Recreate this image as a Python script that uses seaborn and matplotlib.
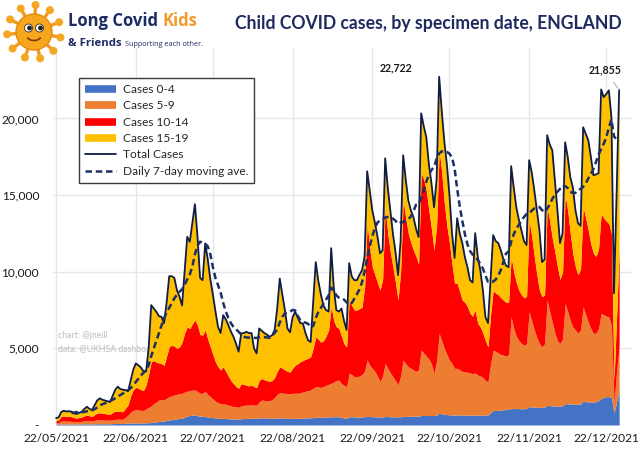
import numpy as np
import pandas as pd
import matplotlib
matplotlib.use("Agg")
import matplotlib.pyplot as plt
from matplotlib.lines import Line2D
from matplotlib.patches import Circle, Arc
import seaborn as sns

# ---------------- data ----------------
start_date = "2021-05-22"

total_cases = [
    450, 500, 850, 930, 880, 900, 870, 760, 720, 800,
    870, 1050, 1190, 1050, 980, 1300, 1600, 1740, 1650, 1600,
    1550, 1500, 1900, 2300, 2500, 2350, 2300, 2280, 2200, 2900,
    3600, 4020, 3900, 3750, 3500, 3480, 5000, 7820, 7600, 7390,
    7100, 7060, 6650, 8000, 9710, 9710, 9600, 8800, 8370, 7800,
    10000, 12280, 11950, 13200, 14410, 12300, 9600, 9450, 11850, 10800,
    9500, 8500, 7400, 6400, 6000, 7170, 6900, 6520, 6100, 5760,
    5300, 4780, 5980, 6000, 6080, 6000, 6000, 5000, 4670, 6300,
    6150, 6000, 5900, 5760, 5850, 6190, 7600, 9560, 8500, 7500,
    6300, 6050, 7040, 7390, 7000, 6650, 6630, 6000, 5540, 5410,
    8000, 10630, 9400, 8500, 7800, 7500, 7400, 11540, 9000, 7500,
    7400, 7600, 6800, 6200, 10560, 9700, 9450, 9450, 9800, 10100,
    11000, 16560, 15300, 14000, 13200, 12300, 11200, 11400, 17400, 15500,
    14000, 12500, 11300, 9780, 12000, 17600, 16000, 14670, 14000, 13560,
    12800, 12260, 20340, 19500, 18780, 17000, 15780, 14210, 16000, 22722,
    20500, 18500, 17000, 15000, 12500, 10900, 13500, 12500, 11870, 10950,
    10300, 9450, 9300, 12520, 11000, 10100, 8800, 7040, 6650, 9500,
    12390, 12000, 11870, 11400, 10800, 10400, 10300, 16890, 15500, 14210,
    13400, 12710, 12000, 11740, 17280, 16500, 15320, 14000, 12710, 10630,
    10800, 18910, 18300, 17930, 16000, 14020, 11870, 12500, 18450, 17500,
    16170, 15500, 14020, 13170, 13000, 19430, 19000, 18580, 17500, 16300,
    16350, 16430, 21900, 21390, 21600, 21840, 20080, 8600, 15000, 21855,
]

# upper edge of the 10-14 band (cases aged 0-14)
cum_0_14 = [
    300, 330, 560, 590, 560, 570, 540, 480, 450, 490,
    520, 600, 650, 600, 560, 680, 780, 800, 760, 740,
    720, 700, 820, 900, 900, 880, 870, 1100, 1300, 1900,
    2300, 2450, 2400, 2300, 2250, 2600, 3300, 4130, 4200, 4100,
    4050, 4000, 3900, 4500, 5100, 5200, 5150, 5000, 5100, 5400,
    6000, 6400, 6300, 6600, 6850, 6500, 5900, 5870, 6200, 5600,
    5100, 4600, 4100, 3800, 3590, 3800, 3500, 3200, 2900, 2700,
    2500, 2400, 2700, 2650, 2600, 2550, 2600, 2500, 2450, 2900,
    3040, 2950, 2900, 2850, 2900, 3100, 3500, 3800, 3700, 3590,
    3500, 3450, 3700, 3900, 4000, 4130, 4200, 4300, 4350, 4450,
    5000, 5760, 5600, 5400, 5500, 5800, 6200, 7710, 6800, 6410,
    6300, 5800, 5300, 5100, 8150, 7800, 7500, 7500, 7600, 7700,
    9000, 13170, 11500, 10320, 9800, 9300, 8800, 9500, 14230, 12500,
    11300, 10320, 9300, 8150, 10000, 14670, 13500, 12500, 11900, 11410,
    11000, 10500, 16500, 16000, 15300, 14000, 12800, 11400, 13000, 17930,
    16500, 14500, 13000, 11870, 10500, 9250, 9250, 8700, 8150, 8000,
    7720, 7300, 7100, 7500, 6630, 6400, 6000, 5500, 5100, 7200,
    8800, 8600, 8500, 8300, 8150, 8000, 8000, 10970, 10000, 9300,
    8800, 8500, 8300, 8400, 13370, 12300, 11000, 9800, 8800, 8370,
    8500, 14230, 13300, 12200, 11300, 10320, 9500, 10000, 15000, 14000,
    12500, 11200, 10320, 9800, 10200, 14230, 13500, 12700, 11800, 11200,
    11000, 11500, 13800, 13500, 13300, 13150, 12500, 2930, 7000, 11500,
]

# upper edge of the 5-9 band (cases aged 0-9)
cum_0_9 = [
    150, 160, 260, 270, 250, 250, 240, 220, 210, 230,
    240, 270, 290, 280, 270, 300, 340, 340, 330, 320,
    320, 310, 350, 370, 380, 370, 380, 500, 650, 850,
    950, 1000, 980, 960, 950, 1050, 1150, 1250, 1400, 1500,
    1630, 1650, 1650, 1750, 1850, 1900, 1950, 2000, 2050, 2070,
    2150, 2200, 2250, 2280, 2280, 2200, 2070, 2070, 2200, 2000,
    1850, 1700, 1550, 1450, 1400, 1400, 1350, 1300, 1250, 1200,
    1200, 1150, 1250, 1280, 1300, 1300, 1320, 1300, 1300, 1500,
    1630, 1600, 1600, 1580, 1650, 1800, 2000, 2100, 2080, 2070,
    2050, 2030, 2070, 2070, 2070, 2100, 2150, 2200, 2250, 2280,
    2400, 2500, 2500, 2450, 2500, 2600, 2650, 2720, 2800, 2900,
    2930, 2700, 2600, 2500, 3370, 3300, 3150, 3150, 3200, 3300,
    3500, 4240, 3900, 3700, 3500, 3200, 2830, 3200, 4020, 3700,
    3400, 3150, 2900, 2610, 3200, 4240, 4000, 3800, 3700, 3590,
    3500, 3600, 4890, 4700, 4500, 4300, 4000, 3370, 4200, 5980,
    5500, 5000, 4600, 4240, 4000, 3700, 3700, 3600, 3500, 3450,
    3450, 3400, 3350, 3400, 3260, 3200, 3100, 2900, 2830, 4000,
    4890, 4800, 4700, 4600, 4560, 4500, 4600, 7060, 6300, 5800,
    5500, 5330, 5200, 5300, 7390, 6800, 6200, 5700, 5300, 5100,
    5300, 8150, 7400, 6700, 6000, 5500, 5330, 5600, 7930, 7400,
    6800, 6400, 6190, 6000, 6200, 7720, 7200, 6700, 6300, 5980,
    6000, 6300, 7280, 7200, 7100, 7060, 6500, 1430, 3500, 5200,
]

# cases aged 0-4
cum_0_4 = [
    50, 50, 60, 60, 60, 60, 60, 60, 60, 60,
    70, 70, 70, 70, 70, 80, 80, 80, 80, 80,
    80, 80, 90, 100, 100, 100, 100, 110, 120, 120,
    130, 130, 130, 130, 140, 140, 150, 160, 180, 200,
    230, 250, 260, 300, 330, 350, 380, 400, 430, 450,
    500, 580, 620, 650, 650, 600, 580, 570, 560, 520,
    500, 480, 460, 440, 430, 430, 420, 410, 400, 400,
    400, 390, 410, 420, 430, 430, 440, 440, 440, 460,
    470, 470, 460, 450, 450, 450, 460, 470, 450, 430,
    430, 430, 430, 430, 430, 440, 450, 460, 470, 470,
    480, 500, 500, 500, 510, 520, 530, 540, 540, 540,
    540, 500, 460, 430, 540, 540, 530, 520, 520, 530,
    540, 560, 550, 540, 530, 530, 520, 530, 560, 550,
    540, 540, 530, 530, 540, 560, 560, 560, 570, 570,
    570, 580, 620, 620, 620, 620, 620, 620, 640, 760,
    730, 700, 680, 660, 650, 650, 660, 650, 640, 640,
    640, 640, 640, 650, 650, 650, 650, 650, 650, 800,
    950, 950, 950, 980, 1000, 1000, 1020, 1090, 1080, 1070,
    1070, 1060, 1060, 1080, 1200, 1180, 1170, 1160, 1150, 1150,
    1170, 1280, 1260, 1250, 1240, 1240, 1230, 1260, 1400, 1380,
    1370, 1360, 1360, 1350, 1380, 1550, 1520, 1500, 1500, 1500,
    1520, 1600, 1740, 1800, 1850, 1850, 1800, 780, 1500, 2200,
]

series_labels = ["Cases 0-4", "Cases 5-9", "Cases 10-14", "Cases 15-19",
                 "Total Cases", "Daily 7-day moving ave."]
x_tick_dates = ["2021-05-22", "2021-06-22", "2021-07-22", "2021-08-22",
                "2021-09-22", "2021-10-22", "2021-11-22", "2021-12-22"]
x_tick_labels = ["22/05/2021", "22/06/2021", "22/07/2021", "22/08/2021",
                 "22/09/2021", "22/10/2021", "22/11/2021", "22/12/2021"]
y_ticks = [0, 5000, 10000, 15000, 20000]
y_tick_labels = ["-", "5,000", "10,000", "15,000", "20,000"]
peak_dates = ["2021-10-18", "2021-12-27"]
peak_texts = ["22,722", "21,855"]

# ---------------- styling ----------------
sns.set_theme(style="white")
plt.rcParams["font.family"] = ["Lato", "DejaVu Sans"]

c_blue, c_orange, c_red, c_yellow = "#4472C4", "#ED7D31", "#FF0000", "#FFC000"
c_navy = "#0F1D45"
c_title = "#1F2A5E"

dates = pd.date_range(start_date, periods=len(total_cases))
df = pd.DataFrame({
    "date": dates,
    "total": total_cases,
    "c14": cum_0_14,
    "c9": cum_0_9,
    "c4": cum_0_4,
})
df["ma7"] = df["total"].rolling(7).mean()

W, H = 640, 461
fig = plt.figure(figsize=(W / 100, H / 100), dpi=100)
fig.patch.set_facecolor("white")

ax_l, ax_r, ax_b, ax_t = 53, 632, 425, 48
ax = fig.add_axes([ax_l / W, 1 - ax_b / H, (ax_r - ax_l) / W, (ax_b - ax_t) / H])
ax.set_facecolor("white")

x0 = pd.Timestamp(start_date) - pd.Timedelta(days=1.2)
x1 = pd.Timestamp(start_date) + pd.Timedelta(days=224)
ax.set_xlim(x0, x1)
ax.set_ylim(0, 24600)

# grid
for d in x_tick_dates:
    ax.axvline(pd.Timestamp(d), color="#E6E6EE", lw=1.0, zorder=0)
for v in y_ticks[1:]:
    ax.axhline(v, color="#E6E6EE", lw=1.0, zorder=0)

# watermark (under the areas)
ax.text(0.008, 0.22, "chart: @jneill\ndata: @UKHSA dashboard",
        transform=ax.transAxes, fontsize=6.3, color="#BDBDBD",
        linespacing=1.45, va="center", ha="left", zorder=0.5)

# stacked areas
ax.fill_between(df["date"], 0, df["c4"], color=c_blue, lw=0, zorder=2)
ax.fill_between(df["date"], df["c4"], df["c9"], color=c_orange, lw=0, zorder=2)
ax.fill_between(df["date"], df["c9"], df["c14"], color=c_red, lw=0, zorder=2)
ax.fill_between(df["date"], df["c14"], df["total"], color=c_yellow, lw=0, zorder=2)

# lines
sns.lineplot(data=df, x="date", y="total", color=c_navy, lw=1.3, ax=ax, zorder=4)
sns.lineplot(data=df, x="date", y="ma7", color="#1C2F66", lw=1.8,
             linestyle=(0, (2.6, 1.5)), ax=ax, zorder=5)

# axes cosmetics
for s in ax.spines.values():
    s.set_visible(False)
ax.set_xlabel("")
ax.set_ylabel("")
ax.set_xticks([pd.Timestamp(d) for d in x_tick_dates])
ax.set_xticklabels(x_tick_labels, fontsize=8.6, color="#1A1A1A")
ax.set_yticks(y_ticks)
ax.set_yticklabels(y_tick_labels, fontsize=8.6, color="#1A1A1A")
ax.tick_params(axis="x", length=0, pad=6)
ax.tick_params(axis="y", length=0, pad=10)
ax.grid(False)

# peak labels
ax.annotate(peak_texts[0], xy=(pd.Timestamp(peak_dates[0]), total_cases[149]),
            xytext=(-31, 6.5), textcoords="offset points", ha="center", va="center",
            fontsize=7.6, fontweight="bold", color="#1A1A1A", zorder=6)
ax.annotate(peak_texts[1], xy=(pd.Timestamp(peak_dates[1]), total_cases[-1]),
            xytext=(-10, 14.5), textcoords="offset points", ha="center", va="center",
            fontsize=7.6, fontweight="bold", color="#1A1A1A", zorder=6,
            arrowprops=dict(arrowstyle="-", color="#A0A0A0", lw=0.6,
                            shrinkA=3, shrinkB=0))

# legend
handles = [
    Line2D([0], [0], color=c_blue, lw=5.5, solid_capstyle="butt"),
    Line2D([0], [0], color=c_orange, lw=5.5, solid_capstyle="butt"),
    Line2D([0], [0], color=c_red, lw=5.5, solid_capstyle="butt"),
    Line2D([0], [0], color=c_yellow, lw=5.5, solid_capstyle="butt"),
    Line2D([0], [0], color=c_navy, lw=1.3),
    Line2D([0], [0], color="#1C2F66", lw=1.8, linestyle=(0, (2.6, 1.5))),
]
leg = ax.legend(handles, series_labels, loc="upper left",
                bbox_to_anchor=((79 - ax_l) / (ax_r - ax_l), (ax_b - 78) / (ax_b - ax_t)),
                borderaxespad=0, frameon=True, fancybox=False, fontsize=8.6,
                handlelength=2.6, handletextpad=0.55, labelspacing=0.45,
                borderpad=0.5)
leg.get_frame().set_edgecolor("#3A3A3A")
leg.get_frame().set_linewidth(1.0)
leg.get_frame().set_facecolor("white")
leg.get_frame().set_alpha(1)
leg.set_zorder(10)

# ---------------- title ----------------
renderer = fig.canvas.get_renderer()
title = fig.text(622 / W, 1 - 24 / H, "Child COVID cases, by specimen date, ENGLAND",
                 ha="right", va="center", fontsize=14, fontweight="bold", color=c_title)
tw = title.get_window_extent(renderer).width
title.set_fontsize(14 * 389 / tw)

# ---------------- logo ----------------
lax = fig.add_axes([0 / W, 1 - 66 / H, 68 / W, 66 / H])
lax.set_xlim(0, 68)
lax.set_ylim(66, 0)
lax.set_aspect("equal")
lax.axis("off")
cx, cy, r = 34, 32, 18
for ang in np.linspace(0, 2 * np.pi, 11, endpoint=False) + 0.2:
    x_end, y_end = cx + 1.5 * r * np.cos(ang), cy + 1.5 * r * np.sin(ang)
    lax.plot([cx, x_end], [cy, y_end], color="#F29A1E", lw=2.4, zorder=1)
    lax.add_patch(Circle((x_end, y_end), 3.3, color="#F5A623", zorder=2))
lax.add_patch(Circle((cx, cy), r, facecolor="#F7A71E", edgecolor="#E88A10", lw=1, zorder=3))
for ex in (cx - 5.5, cx + 5.5):
    lax.add_patch(Circle((ex, cy - 4), 4.0, facecolor="white", edgecolor="#333", lw=0.6, zorder=4))
    lax.add_patch(Circle((ex + 1, cy - 4), 1.7, color="#222", zorder=5))
lax.add_patch(Arc((cx, cy + 3), 15, 11, theta1=20, theta2=160, color="#7A3B00", lw=1.2, zorder=5))

t1 = fig.text(68 / W, 1 - 21 / H, "Long Covid ", ha="left", va="center",
              fontsize=12, fontweight="bold", color="#1D2B64",
              family=["Open Sans", "DejaVu Sans"])
t1w = t1.get_window_extent(renderer)
fig.text(t1w.x1 / W, 1 - 21 / H, "Kids", ha="left", va="center",
         fontsize=12, fontweight="bold", color="#F39A2B",
         family=["Open Sans", "DejaVu Sans"])
t2 = fig.text(68 / W, 1 - 43 / H, "& Friends", ha="left", va="center",
              fontsize=8.2, fontweight="bold", color="#1D2B64",
              family=["Open Sans", "DejaVu Sans"])
t2w = t2.get_window_extent(renderer)
fig.text(t2w.x1 / W + 3 / W, 1 - 44 / H, "Supporting each other.", ha="left", va="center",
         fontsize=5.2, color="#1D2B64", family=["Open Sans", "DejaVu Sans"])

fig.savefig("out.png", dpi=100, facecolor="white")
